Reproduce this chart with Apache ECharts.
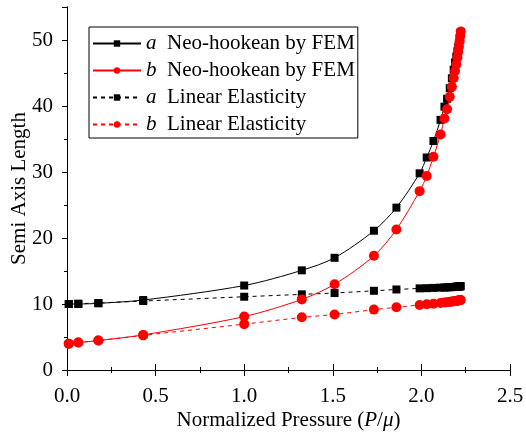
<!DOCTYPE html>
<html><head><meta charset="utf-8">
<script src="https://cdn.jsdelivr.net/npm/echarts@6/dist/echarts.min.js"></script>
<style>html,body{margin:0;padding:0;background:#fff}#c{width:526px;height:436px}</style>
</head><body><div id="c"></div>
<script>
var pressure = [0.01, 0.064, 0.177, 0.43, 1.0, 1.325, 1.51, 1.732, 1.859, 1.99, 2.03, 2.068, 2.108, 2.13, 2.145, 2.16, 2.172, 2.182, 2.19, 2.197, 2.203, 2.208, 2.212, 2.216, 2.219, 2.222];
var aFEM = [10.0, 10.0, 10.1, 10.6, 12.8, 15.1, 17.0, 21.1, 24.6, 29.8, 32.2, 34.7, 37.9, 39.9, 41.1, 42.7, 44.2, 45.5, 46.6, 47.5, 48.3, 49.0, 49.6, 50.2, 50.7, 51.2];
var bFEM = [3.97, 4.16, 4.46, 5.32, 8.1, 10.7, 13.0, 17.3, 21.3, 27.1, 29.4, 32.3, 35.7, 38.1, 39.5, 41.4, 42.9, 44.2, 45.3, 46.3, 47.3, 48.2, 49.0, 49.8, 50.6, 51.3];
var aLin = [10.0, 10.05, 10.15, 10.45, 11.1, 11.46, 11.66, 12.0, 12.2, 12.37, 12.4, 12.44, 12.48, 12.5, 12.52, 12.54, 12.56, 12.58, 12.6, 12.61, 12.63, 12.65, 12.66, 12.68, 12.69, 12.7];
var bLin = [3.97, 4.16, 4.46, 5.25, 6.95, 7.98, 8.4, 9.15, 9.5, 9.85, 9.95, 10.05, 10.15, 10.22, 10.27, 10.32, 10.36, 10.4, 10.44, 10.47, 10.5, 10.53, 10.55, 10.57, 10.59, 10.6];
var xTicks = ['0.0', '0.5', '1.0', '1.5', '2.0', '2.5'];
var names = ['a Neo-hookean by FEM', 'b Neo-hookean by FEM', 'a Linear Elasticity', 'b Linear Elasticity'];

function pairs(ys) { return pressure.map(function (p, i) { return [p, ys[i]]; }); }
var FONT = 'Liberation Serif';
var FS = 21;
var RICH = {
  i: { fontFamily: FONT, fontSize: FS, fontStyle: 'italic', fontWeight: 'normal', color: '#000' },
  n: { fontFamily: FONT, fontSize: FS, fontWeight: 'normal', color: '#000' }
};

var chart = echarts.init(document.getElementById('c'), null, { renderer: 'canvas' });
function mkSeries(name, ys, color, symbol, size, dashed, smooth, z) {
  return {
    name: name, type: 'line', data: pairs(ys), symbol: symbol, symbolSize: size,
    smooth: smooth, z: z, animation: false,
    lineStyle: { color: color, width: 1, type: dashed ? [4, 4] : 'solid' },
    itemStyle: { color: color, borderWidth: 0 },
    emphasis: { disabled: true }
  };
}
var axisLine = { show: true, lineStyle: { color: '#000', width: 1 } };
chart.setOption({
  backgroundColor: '#fff',
  animation: false,
  textStyle: { fontFamily: FONT, fontSize: FS, color: '#000' },
  grid: { left: 67, right: 16, top: 7, bottom: 66, containLabel: false, outerBoundsMode: 'none' },
  legend: {
    orient: 'vertical', left: 89, top: 27,
    data: names, itemWidth: 48, itemHeight: 8, itemGap: 6,
    padding: [6, 3, 3, 3], borderColor: '#000', borderWidth: 1,
    formatter: function (n) { return '{i|' + n.charAt(0) + '}{n|  ' + n.slice(2) + '}'; },
    textStyle: { fontFamily: FONT, fontSize: FS, fontWeight: 'normal', color: '#000', rich: RICH },
    selectedMode: false
  },
  xAxis: [{
    type: 'value', min: 0, max: 2.5, interval: 0.5,
    name: '{n|Normalized Pressure (}{i|P}{n|/}{i|μ}{n|)}', nameLocation: 'middle', nameGap: 40,
    nameMoveOverlap: false,
    nameTextStyle: { fontFamily: FONT, fontSize: FS, fontWeight: 'normal', color: '#000', rich: RICH },
    axisLine: axisLine,
    axisTick: { show: true, inside: true, length: 6, lineStyle: { color: '#000' } },
    minorTick: { show: true, splitNumber: 2, length: 3, lineStyle: { color: '#000' } },
    axisLabel: { fontFamily: FONT, fontSize: FS, color: '#000', margin: 16,
      formatter: function (v) { return xTicks[Math.round(v / 0.5)]; } },
    splitLine: { show: false }
  }, {
    type: 'value', position: 'top', min: 0, max: 2.5, interval: 0.5,
    axisLine: axisLine,
    axisTick: { show: true, inside: true, length: 6, lineStyle: { color: '#000' } },
    minorTick: { show: true, splitNumber: 2, length: 3, lineStyle: { color: '#000' } },
    axisLabel: { show: false }, splitLine: { show: false }
  }],
  yAxis: [{
    type: 'value', min: 0, max: 55, interval: 10,
    name: 'Semi Axis Length', nameLocation: 'middle', nameGap: 37, nameRotate: 90,
    nameMoveOverlap: false,
    nameTextStyle: { fontFamily: FONT, fontSize: FS, color: '#000' },
    axisLine: axisLine,
    axisTick: { show: true, inside: false, length: 5, lineStyle: { color: '#000' } },
    minorTick: { show: true, splitNumber: 2, length: 3, lineStyle: { color: '#000' } },
    axisLabel: { fontFamily: FONT, fontSize: FS, color: '#000', margin: 14, showMaxLabel: false },
    splitLine: { show: false }
  }, {
    type: 'value', position: 'right', min: 0, max: 55, interval: 10,
    axisLine: axisLine,
    axisTick: { show: true, inside: true, length: 5, lineStyle: { color: '#000' } },
    minorTick: { show: true, splitNumber: 2, length: 3, lineStyle: { color: '#000' } },
    axisLabel: { show: false }, splitLine: { show: false }
  }],
  series: [
    mkSeries(names[2], aLin, '#000', 'rect', 8, true, false, 2),
    mkSeries(names[3], bLin, '#ff0000', 'circle', 10, true, false, 3),
    mkSeries(names[0], aFEM, '#000', 'rect', 8, false, 0.3, 4),
    mkSeries(names[1], bFEM, '#ff0000', 'circle', 10, false, 0.3, 5)
  ]
});
</script></body></html>
